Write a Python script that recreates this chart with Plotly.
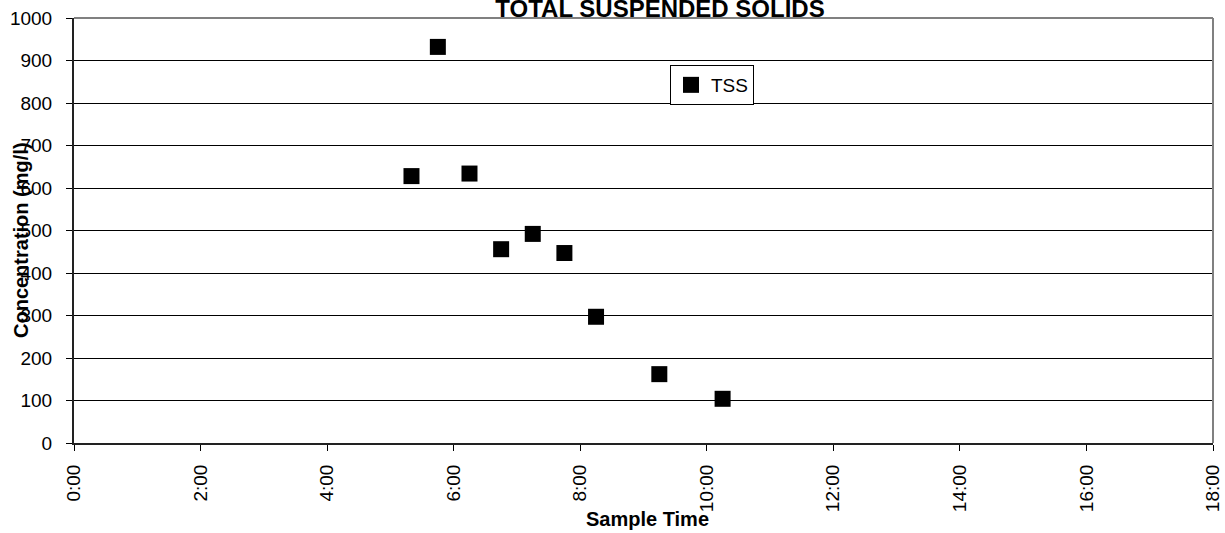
import pandas as pd
import plotly.graph_objects as go

# ---- data ----
sample_times = ["5:20", "5:45", "6:15", "6:45", "7:15", "7:45", "8:15", "9:15", "10:15"]
tss_values = [628, 932, 634, 456, 492, 447, 297, 162, 104]
x_tick_hours = list(range(0, 19, 2))
x_tick_labels = [f"{h}:00" for h in x_tick_hours]
series_name = "TSS"
title_text = "TOTAL SUSPENDED SOLIDS"
x_title = "Sample Time"
y_title = "Concentration (mg/l)"

base_day = "2000-01-01 "
x_dates = pd.to_datetime([base_day + t for t in sample_times])
tick_dates = pd.to_datetime([base_day + f"{h:02d}:00" for h in x_tick_hours])

FONT = "Liberation Sans, Arial, sans-serif"

fig = go.Figure()
fig.add_trace(go.Scatter(
    x=x_dates, y=tss_values, mode="markers", name=series_name,
    marker=dict(symbol="square", size=16, color="#000000", line=dict(width=0)),
))

fig.update_layout(
    width=1225, height=533,
    margin=dict(l=74, r=12, t=18, b=90, autoexpand=False),
    paper_bgcolor="white", plot_bgcolor="white",
    font=dict(family=FONT, size=19, color="#000000"),
    showlegend=True,
    legend=dict(
        x=(670 - 74) / 1139, y=(443 - 65) / 425, xanchor="left", yanchor="top",
        bordercolor="#000000", borderwidth=1, bgcolor="white",
        font=dict(family=FONT, size=19, color="#000000"),
        tracegroupgap=0, itemwidth=30,
    ),
    title=dict(
        text=f"<b>{title_text}</b>", x=660 / 1225, xanchor="center",
        yref="container", y=1 - 8.5 / 533, yanchor="middle",
        font=dict(family=FONT, size=24, color="#000000"),
    ),
    xaxis=dict(
        type="date",
        range=[tick_dates[0], tick_dates[-1]],
        tickvals=tick_dates, ticktext=x_tick_labels,
        tickangle=-90,
        ticks="outside", ticklen=6, tickcolor="#000000", tickwidth=1,
        showline=True, linecolor="#222222", linewidth=2,
        showgrid=False, zeroline=False,
        ticklabelstandoff=6,
        tickfont=dict(family=FONT, size=19, color="#000000"),
        automargin=False,
    ),
    yaxis=dict(
        range=[0, 1000], tick0=0, dtick=100,
        ticks="outside", ticklen=6, tickcolor="#000000", tickwidth=1,
        showline=True, linecolor="#222222", linewidth=2,
        showgrid=True, gridcolor="#000000", gridwidth=1,
        zeroline=False,
        ticklabelstandoff=10,
        tickfont=dict(family=FONT, size=19, color="#000000"),
        automargin=False,
    ),
    shapes=[
        dict(type="line", xref="paper", yref="paper", x0=0, x1=1, y0=1, y1=1,
             line=dict(color="#808080", width=2), layer="above"),
        dict(type="line", xref="paper", yref="paper", x0=1, x1=1, y0=0, y1=1,
             line=dict(color="#808080", width=2), layer="above"),
    ],
    annotations=[
        dict(text=f"<b>{y_title}</b>", xref="paper", yref="paper",
             x=(21 - 74) / 1139, y=(443 - 240) / 425, xanchor="center", yanchor="middle",
             textangle=-90, showarrow=False,
             font=dict(family=FONT, size=20, color="#000000")),
        dict(text=f"<b>{x_title}</b>", xref="paper", yref="paper",
             x=(647 - 74) / 1139, y=(443 - 519) / 425, xanchor="center", yanchor="middle",
             showarrow=False,
             font=dict(family=FONT, size=20, color="#000000")),
    ],
)

fig.write_html("out.html", config={"displayModeBar": False},
               post_script="document.body.style.margin='0';")
